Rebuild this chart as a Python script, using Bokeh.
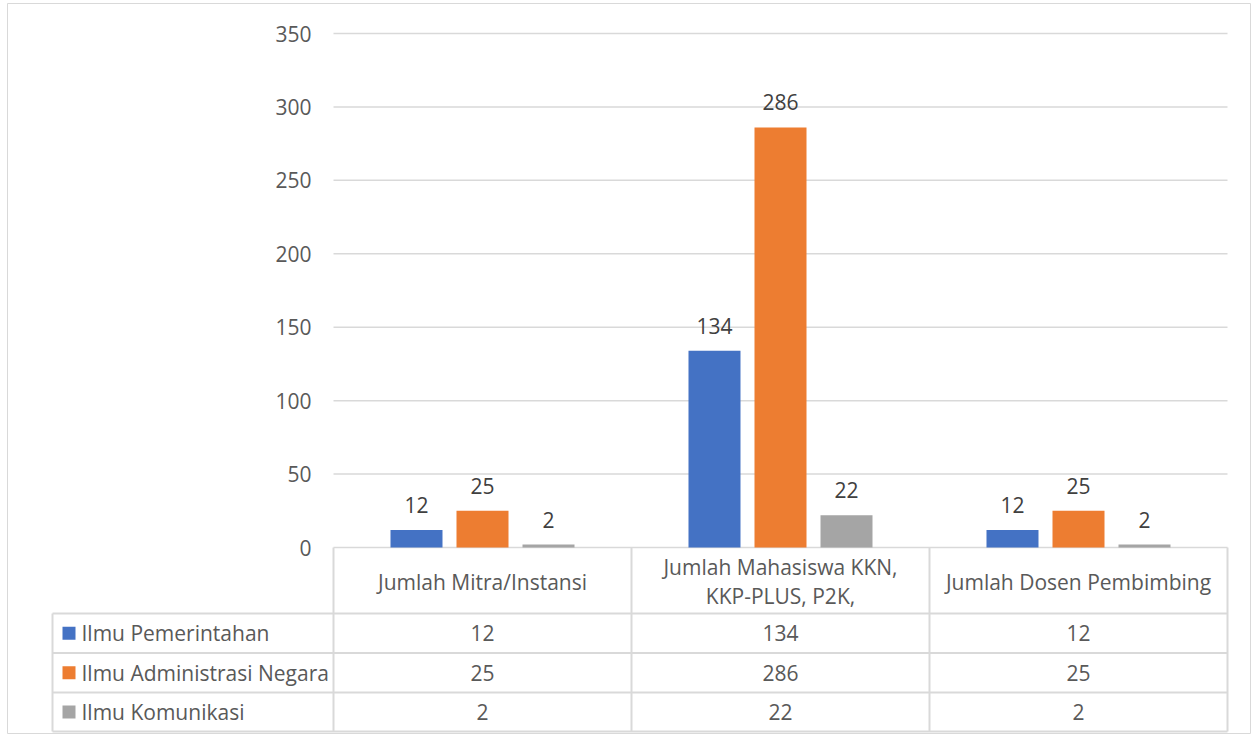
from bokeh.plotting import figure
from bokeh.models import Range1d, ColumnDataSource, LinearAxis, FixedTicker
from bokeh.transform import dodge
from bokeh.core.properties import value
from bokeh.embed import file_html
from bokeh.resources import INLINE

# ---------------- data ----------------
categories = ["Jumlah Mitra/Instansi", "Jumlah Mahasiswa KKN, KKP-PLUS, P2K,", "Jumlah Dosen Pembimbing"]
category_labels = ["Jumlah Mitra/Instansi", "Jumlah Mahasiswa KKN,\nKKP-PLUS, P2K,", "Jumlah Dosen Pembimbing"]
series_names = ["Ilmu Pemerintahan", "Ilmu Administrasi Negara", "Ilmu Komunikasi"]
ilmu_pemerintahan = [12, 134, 12]
ilmu_administrasi_negara = [25, 286, 25]
ilmu_komunikasi = [2, 22, 2]
y_ticks = [0, 50, 100, 150, 200, 250, 300, 350]

# ---------------- style / layout ----------------
colors = ["#4472C4", "#ED7D31", "#A5A5A5"]
FONT = "Open Sans"
FS = "21px"
TXT = "#595959"
LBL = "#404040"
LINE = "#d9d9d9"

W, H = 1252, 735
PLOT_L, PLOT_R = 333, 1227          # plot-area left/right (px)
PLOT_T, PLOT_B = 33, 547            # pixel of top tick / zero line
YMAX = y_ticks[-1]
COLW = (PLOT_R - PLOT_L) / len(categories)
PPU = (PLOT_B - PLOT_T) / YMAX      # px per value unit


def X(px):
    return (px - PLOT_L) / COLW


def Y(py):
    return (PLOT_B - py) / PPU


series = [ilmu_pemerintahan, ilmu_administrasi_negara, ilmu_komunikasi]
ncat = len(categories)
src = ColumnDataSource(dict(
    pos=[i + 0.5 for i in range(ncat)],
    s0=series[0], s1=series[1], s2=series[2],
    l0=[str(v) for v in series[0]], l1=[str(v) for v in series[1]], l2=[str(v) for v in series[2]],
))

p = figure(width=W, height=H,
           x_range=Range1d(X(7), X(1250)), y_range=Range1d(Y(733), Y(3)),
           min_border_left=7, min_border_right=2, min_border_top=3, min_border_bottom=2,
           x_axis_location=None, y_axis_location=None,
           output_backend="svg", toolbar_location=None)
p.outline_line_color = LINE
p.outline_line_width = 1
p.grid.visible = False

yaxis = LinearAxis(ticker=FixedTicker(ticks=y_ticks), fixed_location=0, bounds=(0, YMAX))
yaxis.axis_line_color = None
yaxis.major_tick_line_color = None
yaxis.minor_tick_line_color = None
yaxis.major_tick_in = 0
yaxis.major_tick_out = 0
yaxis.minor_tick_in = 0
yaxis.minor_tick_out = 0
yaxis.major_label_text_font = FONT
yaxis.major_label_text_font_size = FS
yaxis.major_label_text_color = TXT
yaxis.major_label_standoff = 22
p.add_layout(yaxis, "left")

# gridlines (value ticks across the plot area)
p.segment(x0=[0] * len(y_ticks), x1=[ncat] * len(y_ticks), y0=y_ticks, y1=y_ticks,
          line_color=LINE, line_width=1.5)

# bars + data labels
offsets = [-0.2215, 0.0, 0.2215]
bar_w = 0.1745
for i in range(3):
    xd = dodge("pos", offsets[i])
    p.vbar(x=xd, top="s%d" % i, width=bar_w, source=src, fill_color=colors[i], line_color=None)
    p.text(x=xd, y="s%d" % i, text="l%d" % i, source=src, text_align="center",
           text_baseline="alphabetic", y_offset=-25, text_font=value(FONT),
           text_font_size=FS, text_color=LBL)

# ---------------- data table ----------------
LEG_L = 52
HEAD_B = 613
rows_px = [613, 652.5, 692, 731]
# horizontal borders
p.segment(x0=[X(LEG_L)] * 4, x1=[ncat] * 4, y0=[Y(v) for v in rows_px], y1=[Y(v) for v in rows_px],
          line_color=LINE, line_width=2)
# vertical borders
p.segment(x0=[X(LEG_L)], x1=[X(LEG_L)], y0=[Y(HEAD_B)], y1=[Y(rows_px[-1])], line_color=LINE, line_width=2)
p.segment(x0=list(range(ncat + 1)), x1=list(range(ncat + 1)), y0=[0] * (ncat + 1),
          y1=[Y(rows_px[-1])] * (ncat + 1), line_color=LINE, line_width=2)

# header labels
p.text(x=[i + 0.5 for i in range(ncat)], y=[Y((PLOT_B + HEAD_B) / 2 + 1)] * ncat, text=category_labels,
       text_align="center", text_baseline="middle", text_font=value(FONT), text_font_size=FS,
       text_color=TXT, text_line_height=1.03)

# rows
for r in range(3):
    yc = Y((rows_px[r] + rows_px[r + 1]) / 2)
    p.text(x=[i + 0.5 for i in range(ncat)], y=[yc] * ncat, text=[str(v) for v in series[r]],
           text_align="center", text_baseline="middle", text_font=value(FONT), text_font_size=FS,
           text_color=TXT)
    p.rect(x=[X(LEG_L + 16.5)], y=[yc], width=13, height=13, width_units="screen",
           height_units="screen", fill_color=colors[r], line_color=None)
    p.text(x=[X(LEG_L)], y=[yc], text=[series_names[r]], x_offset=29, text_align="left",
           text_baseline="middle", text_font=value(FONT), text_font_size=FS, text_color=TXT)

with open("out.html", "w") as f:
    f.write(file_html(p, INLINE))
